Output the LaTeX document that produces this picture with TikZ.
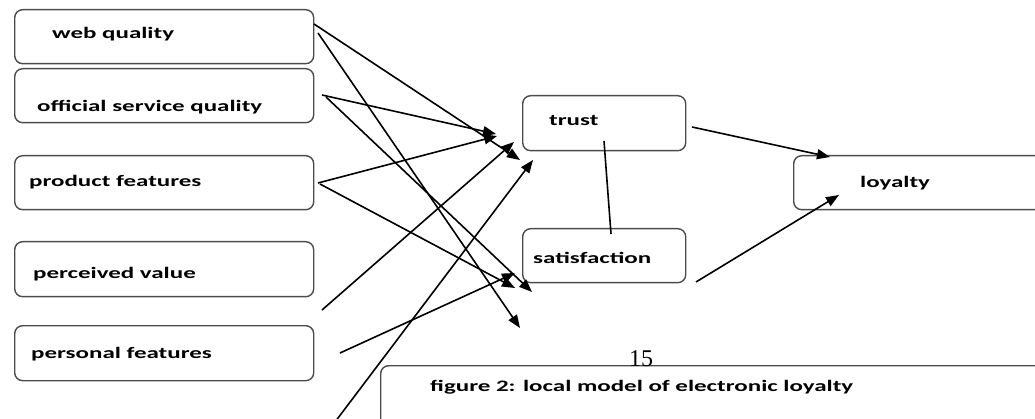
\documentclass[tikz,border=0pt]{standalone}
\usepackage{fontspec}
\setmainfont{Carlito}[FakeStretch=1.56]
\newfontfamily\numfont{Liberation Serif}
\usetikzlibrary{arrows.meta}
\tikzset{
  box/.style={draw=black!70, line width=1.4pt, rounded corners=8pt, inner sep=0pt},
  lbl/.style={anchor=base west, inner sep=0pt, font=\fontsize{16}{18}\selectfont\bfseries},
  conn/.style={line width=1.6pt, black},
  arr/.style={conn, -{Triangle[length=13pt,width=10pt]}}
}
\begin{document}
\begin{tikzpicture}[x=1pt,y=-1pt]
\useasboundingbox (0,0) rectangle (1035,419);
\clip (0,0) rectangle (1035,419);
% boxes
\node[box, minimum width=299pt, minimum height=54pt, anchor=north west] (web) at (14,9) {};
\node[box, minimum width=299pt, minimum height=54pt, anchor=north west] (off) at (14,68) {};
\node[box, minimum width=299pt, minimum height=54pt, anchor=north west] (prod) at (14,155) {};
\node[box, minimum width=299pt, minimum height=55pt, anchor=north west] (perc) at (14,241) {};
\node[box, minimum width=299pt, minimum height=55pt, anchor=north west] (pers) at (14,325) {};
\node[box, minimum width=163pt, minimum height=55pt, anchor=north west] (trust) at (522,95) {};
\node[box, minimum width=163pt, minimum height=54pt, anchor=north west] (sat) at (522,228) {};
\node[box, minimum width=260pt, minimum height=54pt, anchor=north west] (loy) at (793,155) {};
\node[box, minimum width=680pt, minimum height=62pt, anchor=north west] (cap) at (380,365) {};
% labels
\node[lbl] (tweb) at (52,39) {web quality};
\node[lbl] (toff) at (37,112) {official service quality};
\node[lbl] (tprod) at (29,187) {product features};
\node[lbl] (tperc) at (33,279) {perceived value};
\node[lbl] (tpers) at (31,358) {personal features};
\node[lbl] (ttrust) at (549,126) {trust};
\node[lbl] (tsat) at (533,264) {satisfaction};
\node[lbl] (tloy) at (860,188) {loyalty};
\node[lbl] (tcap) at (430,391) {figure 2: local model of electronic loyalty};
\node[anchor=base, inner sep=0pt, font=\numfont\fontsize{24}{26}\selectfont] (pg) at (641,366) {15};
% connector ends
\coordinate (w1) at (314,24);   \coordinate (w1e) at (520,160);
\coordinate (w2) at (318,33);   \coordinate (w2e) at (520,328);
\coordinate (o1) at (322,95);   \coordinate (o1e) at (496,134);
\coordinate (o2) at (326,97);   \coordinate (o2e) at (532,292);
\coordinate (p1) at (318,183);  \coordinate (p1e) at (497,136);
\coordinate (p2) at (320,184);  \coordinate (p2e) at (515,288);
\coordinate (v1) at (322,310);  \coordinate (v1e) at (514,142);
\coordinate (f1) at (340,353);  \coordinate (f1e) at (515,273);
\coordinate (b1) at (335,422);  \coordinate (b1e) at (533,160);
\coordinate (tl) at (692,127);  \coordinate (tle) at (830,157);
\coordinate (sl) at (696,282);  \coordinate (sle) at (839,195);
\coordinate (ts1) at (604,141); \coordinate (ts2) at (611,234);
% connectors
\draw[arr] (w1) -- (w1e);
\draw[arr] (w2) -- (w2e);
\draw[arr] (o1) -- (o1e);
\draw[arr] (o2) -- (o2e);
\draw[arr] (p1) -- (p1e);
\draw[arr] (p2) -- (p2e);
\draw[arr] (v1) -- (v1e);
\draw[arr] (f1) -- (f1e);
\draw[arr] (b1) -- (b1e);
\draw[arr] (tl) -- (tle);
\draw[arr] (sl) -- (sle);
\draw[conn] (ts1) -- (ts2);
\end{tikzpicture}
\end{document}
